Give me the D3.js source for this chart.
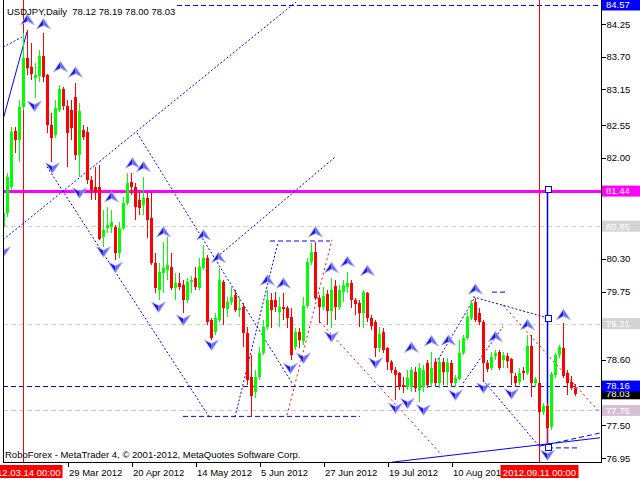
<!DOCTYPE html>
<html><head><meta charset="utf-8">
<script src="https://cdn.jsdelivr.net/npm/d3@7/dist/d3.min.js"></script>
<style>
html,body{margin:0;padding:0;background:#fff;}
svg{display:block;}
text{font-family:"Liberation Sans",Arial,sans-serif;}
</style></head><body>
<svg id="chart" width="640" height="480"></svg>
<script>
// ---- DATA ----
const openP=[80.84,81.07,81.51,82.45,82.30,82.85,83.68,83.53,83.34,83.38,
 83.71,83.39,82.55,82.38,82.80,83.16,82.87,82.80,83.02,82.05,
 82.47,82.43,81.63,81.51,81.50,80.66,80.82,80.84,80.84,80.40,
 80.82,81.24,81.60,81.50,81.29,81.21,81.32,80.99,80.23,79.78,
 80.06,80.11,80.16,79.81,79.89,79.86,79.61,79.91,79.98,79.81,
 80.15,80.32,79.27,79.07,79.27,79.91,79.46,79.57,79.69,79.44,
 79.49,79.05,78.31,78.06,78.31,78.72,79.16,79.61,79.61,79.41,
 79.49,79.47,79.32,78.81,79.07,78.92,79.51,80.25,80.42,79.64,
 79.49,79.71,79.42,79.84,79.49,79.74,79.83,79.89,79.61,79.56,
 79.39,79.73,79.31,79.24,78.80,79.07,78.80,78.56,78.43,78.38,
 78.18,78.14,78.14,78.40,78.09,78.14,78.55,78.21,78.56,78.21,
 78.56,78.40,78.55,78.21,78.28,78.72,78.97,79.31,79.57,79.39,
 79.24,78.55,78.46,78.66,78.73,78.60,78.66,78.62,78.33,78.23,
 78.41,78.38,78.83,78.21,78.21,77.72,77.82,77.47,78.35,78.68,
 78.80,78.38,78.23,78.12];
const highP=[81.21,81.74,82.52,82.52,82.97,84.10,84.15,83.93,83.59,83.81,
 84.10,83.41,82.75,82.97,83.22,83.19,82.97,82.97,83.26,82.92,
 82.55,82.52,81.69,81.85,81.88,81.12,81.17,81.12,80.87,80.92,
 81.34,81.74,81.74,81.58,81.41,81.68,81.42,81.42,80.40,80.23,
 80.58,80.66,80.40,80.06,80.06,79.94,79.98,80.01,80.16,80.32,
 80.53,80.37,79.31,79.39,80.15,79.94,79.66,79.83,79.78,79.66,
 79.56,79.16,78.68,78.43,78.81,79.27,79.78,79.73,79.74,79.66,
 79.73,79.51,79.47,79.14,79.14,79.66,80.32,80.57,80.58,79.69,
 79.83,79.78,79.98,79.94,79.86,79.94,80.08,79.94,79.64,79.61,
 79.78,79.74,79.36,79.27,79.16,79.14,78.81,78.60,78.48,78.40,
 78.31,78.43,78.48,78.48,78.55,78.52,78.60,78.73,78.63,78.65,
 78.63,78.63,78.60,78.35,78.93,79.02,79.41,79.61,79.64,79.47,
 79.27,78.60,78.73,78.77,78.77,78.73,78.72,78.63,78.38,78.46,
 78.48,79.02,79.02,78.31,78.26,77.87,77.87,78.40,78.72,78.85,
 79.22,78.43,78.33,78.19];
const lowP=[80.62,81.00,81.46,82.08,81.93,82.80,83.39,83.31,83.00,83.28,
 83.28,82.42,81.93,82.33,82.77,82.80,81.85,82.30,81.96,81.68,
 82.30,81.56,81.29,81.29,80.62,80.50,80.73,80.73,80.28,80.32,
 80.78,81.21,81.37,80.95,81.04,81.04,80.65,80.20,79.73,79.61,
 79.73,79.94,79.78,79.61,79.78,79.39,79.56,79.73,79.78,79.78,
 80.11,79.19,78.93,79.02,79.24,79.19,79.32,79.52,79.41,79.32,
 78.81,78.18,77.64,77.96,78.26,78.68,79.11,79.14,79.41,79.16,
 79.27,79.14,78.60,78.77,78.80,78.85,79.47,80.20,79.61,79.22,
 79.44,79.19,79.14,79.27,79.44,79.57,79.73,79.47,79.36,79.16,
 79.14,79.24,79.11,78.65,78.73,78.72,78.43,78.38,77.93,78.09,
 78.04,78.09,78.06,78.06,77.89,78.06,78.13,78.14,78.14,78.13,
 78.18,78.18,78.14,78.14,78.26,78.68,78.93,79.27,79.24,79.19,
 78.23,78.40,78.43,78.60,78.43,78.46,78.46,78.18,78.14,78.18,
 78.26,78.35,77.98,78.14,77.59,77.67,77.13,77.42,78.29,78.63,
 78.29,78.01,78.09,78.00];
const closeP=[81.07,81.68,82.43,82.30,82.85,83.68,83.51,83.41,83.39,83.71,
 83.36,82.55,82.33,82.84,83.16,82.87,82.42,82.50,82.05,82.79,
 82.35,81.63,81.46,81.42,80.63,80.78,80.87,80.92,80.40,80.82,
 81.24,81.58,81.50,81.17,81.16,81.32,80.95,80.23,79.81,80.08,
 80.15,80.20,79.81,79.89,79.83,79.61,79.91,79.94,79.83,80.16,
 80.32,79.24,78.97,79.31,79.94,79.47,79.57,79.66,79.44,79.47,
 79.05,78.26,77.99,78.31,78.72,79.16,79.61,79.44,79.49,79.49,
 79.46,79.31,78.68,79.07,78.93,79.51,80.25,80.42,79.64,79.49,
 79.68,79.42,79.78,79.49,79.78,79.86,79.89,79.61,79.54,79.39,
 79.74,79.31,79.17,78.80,79.04,78.77,78.56,78.43,78.35,78.14,
 78.14,78.29,78.43,78.13,78.46,78.43,78.18,78.46,78.21,78.56,
 78.40,78.55,78.21,78.29,78.72,78.97,79.32,79.56,79.27,79.24,
 78.55,78.45,78.65,78.72,78.46,78.68,78.58,78.38,78.21,78.38,
 78.38,78.83,78.21,78.28,77.72,77.82,77.45,78.36,78.68,78.81,
 78.33,78.21,78.13,78.03];

const dateTickIdx=[16,32,48,64,80,96,112];
const dateTickLabels=["29 Mar 2012","20 Apr 2012","14 May 2012","5 Jun 2012","27 Jun 2012","19 Jul 2012","10 Aug 2012"];
const markedIdx=[5,134];
const markedLabels=["2012.03.14 00:00","2012.09.11 00:00"];
const priceTicks=[84.25,83.70,83.15,82.55,82.00,81.45,80.85,80.30,79.75,79.20,78.60,78.05,77.50,76.95];

const upArrowIdx=[6,10,14.25,18,32.25,35,27,40,50,53.75,66,70,78,82,86,91,102,107,111.25,118,123,131,140];
const upArrowPrice=[84.32,84.25,83.53,83.44,81.91,81.85,81.34,80.75,80.70,80.32,79.94,79.89,80.75,80.15,80.25,80.10,78.81,78.92,78.93,79.79,78.99,79.19,79.36];
const downArrowIdx=[0,7.75,12.25,19,25,28,38.75,45,52,71.75,75,82,93,98,101,105,113,120,127,136];
const downArrowPrice=[80.42,82.87,81.83,81.41,80.42,80.16,79.49,79.27,78.85,78.46,78.63,78.99,78.55,77.79,77.87,77.76,78.01,78.13,78.03,77.00];

// trend lines: start index, start price, end index, end price
const lineStartIdx =[0,    0,    0,    33.5, 11,   53.5, 66.75,45,   58,   71,   79.25,125,  107.25,115,  122.25,97.25,134.25,136.25,120,  117.5];
const lineStartP   =[82.64,83.86,80.62,82.42,81.85,80.33,80.60,77.65,77.64,77.67,79.24,79.52,78.43,78.21,79.74,76.88,77.15,77.12,78.26,79.66];
const lineEndIdx   =[6,    4.75, 73.25,72.25,51.75,83,   81.75,89.25,68.75,82.25,109.75,149.25,118, 125,  126,  149.25,149.25,143.75,134.25,136];
const lineEndP     =[84.12,84.03,84.62,78.21,77.62,82.01,80.60,77.65,80.58,80.62,77.00,77.71,79.66,79.16,79.74,77.29,77.37,77.12,77.13,79.31];
const lineKind     =["solid","dot","dot","dot","dot","dot","dash","dash","dot","rdot","rdot","rdot","dot","dot","dash","solid","dash","dash","dot","dot"];

const levelPrice=[84.57,81.44,80.85,79.21,78.16,77.75];
const levelStartIdx=[43.5,-1,-1,-1,-1,-1];
const levelColor=["#0000ff","#ff00ff","#d3d3d3","#d3d3d3","#0000ff","#d8bfd8"];
const bidPrice=78.03;
const markerIdx=136;
const markerPrices=[81.48,79.31,77.13];

// ---- CHART ----
const svg=d3.select("#chart");
const PL=3, PR=601, PT=0, PB=462;
const x=d3.scaleLinear().domain([0,1]).range([3,7]);
const y=d3.scaleLinear().domain([76.95,84.25]).range([458,24]);
const FS="9.5px";

svg.append("rect").attr("width",640).attr("height",480).attr("fill","#fff");
svg.append("defs").append("clipPath").attr("id","clip")
  .append("rect").attr("x",PL).attr("y",PT).attr("width",PR-PL).attr("height",PB-PT);
const plot=svg.append("g").attr("clip-path","url(#clip)");

// level lines
levelPrice.forEach((p,k)=>{
  const x1=levelStartIdx[k]<0?PL:x(levelStartIdx[k]);
  const yy=Math.round(y(p))+0.5;
  const isMag=k===1;
  plot.append("line").attr("x1",x1).attr("x2",PR).attr("y1",yy).attr("y2",yy)
    .attr("stroke",levelColor[k]).attr("stroke-width",isMag?3:1)
    .attr("stroke-dasharray",isMag?null:"5,3").attr("shape-rendering","crispEdges");
});

// vertical date lines
markedIdx.forEach(i=>{
  plot.append("line").attr("x1",x(i)+0.5).attr("x2",x(i)+0.5).attr("y1",PT).attr("y2",PB)
    .attr("stroke","#ff0000").attr("stroke-width",1).attr("shape-rendering","crispEdges");
});

// trend lines
const dashOf={solid:null,dot:"2,2",dash:"5,3",rdot:"2,3"};
lineStartIdx.forEach((s,k)=>{
  plot.append("line").attr("x1",x(s)).attr("y1",y(lineStartP[k]))
    .attr("x2",x(lineEndIdx[k])).attr("y2",y(lineEndP[k]))
    .attr("stroke",lineKind[k]==="rdot"?"#ff0000":"#0000ff")
    .attr("stroke-width",1).attr("stroke-dasharray",dashOf[lineKind[k]]);
});

// marker vertical line with squares
plot.append("line").attr("x1",x(markerIdx)+0.5).attr("x2",x(markerIdx)+0.5)
  .attr("y1",y(markerPrices[0])).attr("y2",y(markerPrices[2]))
  .attr("stroke","#0000ff").attr("stroke-width",1.5);

// candles
const candles=plot.append("g").attr("shape-rendering","crispEdges");
openP.forEach((o,i)=>{
  const c=closeP[i], col=c>=o?"#00ff00":"#ff0000";
  const cx=x(i);
  candles.append("rect").attr("x",cx).attr("y",y(highP[i])).attr("width",1)
    .attr("height",Math.max(1,y(lowP[i])-y(highP[i]))).attr("fill",col);
  const top=y(Math.max(o,c)), bot=y(Math.min(o,c));
  candles.append("rect").attr("x",cx-1).attr("y",top).attr("width",3)
    .attr("height",Math.max(1,bot-top)).attr("fill",col);
});

markerPrices.forEach(p=>{
  plot.append("rect").attr("x",x(markerIdx)-2).attr("y",Math.round(y(p))-3).attr("width",6).attr("height",6)
    .attr("fill","#fff").attr("stroke","#0000ff").attr("stroke-width",1).attr("shape-rendering","crispEdges");
});

// fractal arrows
function arrow(g,i,p,up){
  const gg=g.append("g").attr("transform",`translate(${x(i)+0.5},${y(p)})`);
  const s=up?1:-1;
  gg.append("path").attr("d",`M0,${-5.5*s} L-7,${5*s} L0,${1.5*s} Z`).attr("fill","#1c1ce0");
  gg.append("path").attr("d",`M0,${-5.5*s} L7,${5*s} L0,${1.5*s} Z`).attr("fill","#6a6af5");
  gg.append("path").attr("d",`M0,${-5.5*s} L7,${5*s} L0,${1.5*s} L-7,${5*s} Z`)
    .attr("fill","none").attr("stroke","#b4b4ff").attr("stroke-width",0.8);
}
upArrowIdx.forEach((i,k)=>arrow(plot,i,upArrowPrice[k],true));
downArrowIdx.forEach((i,k)=>arrow(plot,i,downArrowPrice[k],false));

// frame / axes lines
svg.append("line").attr("x1",PL+0.5).attr("x2",PL+0.5).attr("y1",0).attr("y2",PB).attr("stroke","#000").attr("shape-rendering","crispEdges");
svg.append("line").attr("x1",PR+0.5).attr("x2",PR+0.5).attr("y1",0).attr("y2",PB+0.5).attr("stroke","#000").attr("shape-rendering","crispEdges");
svg.append("line").attr("x1",PL).attr("x2",PR+1).attr("y1",PB+0.5).attr("y2",PB+0.5).attr("stroke","#000").attr("shape-rendering","crispEdges");

// right price axis
const yAxis=d3.axisRight(y).tickValues(priceTicks).tickSize(4).tickPadding(1).tickFormat(d3.format(".2f"));
const ya=svg.append("g").attr("transform",`translate(${PR+0.5},0)`).call(yAxis);
ya.select(".domain").remove();
ya.selectAll("line").attr("stroke","#000").attr("shape-rendering","crispEdges");
ya.selectAll("text").attr("font-size",FS).attr("fill","#000").attr("font-family",null);

// bottom date axis
const xAxis=d3.axisBottom(x).tickValues(dateTickIdx).tickSize(4).tickPadding(3).tickFormat((d,k)=>dateTickLabels[k]);
const xa=svg.append("g").attr("transform",`translate(0.5,${PB+0.5})`).call(xAxis);
xa.select(".domain").remove();
xa.selectAll("line").attr("stroke","#000").attr("shape-rendering","crispEdges");
xa.selectAll("text").attr("font-size",FS).attr("fill","#000").attr("text-anchor","start").attr("x",1).attr("font-family",null);

// date marker boxes
markedIdx.forEach((i,k)=>{
  const cx=x(i)+0.5;
  svg.append("rect").attr("x",cx-39).attr("y",465).attr("width",78).attr("height",13).attr("fill","#ff0000");
  svg.append("text").attr("x",cx).attr("y",475.5).attr("text-anchor","middle").attr("font-size",FS)
    .attr("fill","#fff").text(markedLabels[k]);
});

// price label boxes
function priceBox(p,bg,fg){
  const yy=y(p);
  svg.append("rect").attr("x",PR+1).attr("y",yy-5.5).attr("width",38).attr("height",11).attr("fill",bg);
  svg.append("text").attr("x",PR+5).attr("y",yy).attr("dy","0.36em").attr("font-size",FS).attr("fill",fg).text(d3.format(".2f")(p));
}
priceBox(levelPrice[2],levelColor[2],"#fff");
priceBox(levelPrice[3],levelColor[3],"#fff");
priceBox(levelPrice[5],levelColor[5],"#fff");
priceBox(levelPrice[1],levelColor[1],"#fff");
priceBox(bidPrice,"#000","#fff");
priceBox(levelPrice[4],levelColor[4],"#fff");
priceBox(levelPrice[0],levelColor[0],"#fff");

// header and footer text
const n=openP.length-1;
svg.append("text").attr("x",7).attr("y",14.5).attr("font-size",FS).attr("fill","#000")
  .attr("xml:space","preserve")
  .text(`USDJPY,Daily  ${openP[n].toFixed(2)} ${highP[n].toFixed(2)} ${lowP[n].toFixed(2)} ${closeP[n].toFixed(2)}`);
svg.append("text").attr("x",5).attr("y",458).attr("font-size",FS).attr("fill","#000")
  .text("RoboForex - MetaTrader 4, © 2001-2012, MetaQuotes Software Corp.");
</script>
</body></html>
